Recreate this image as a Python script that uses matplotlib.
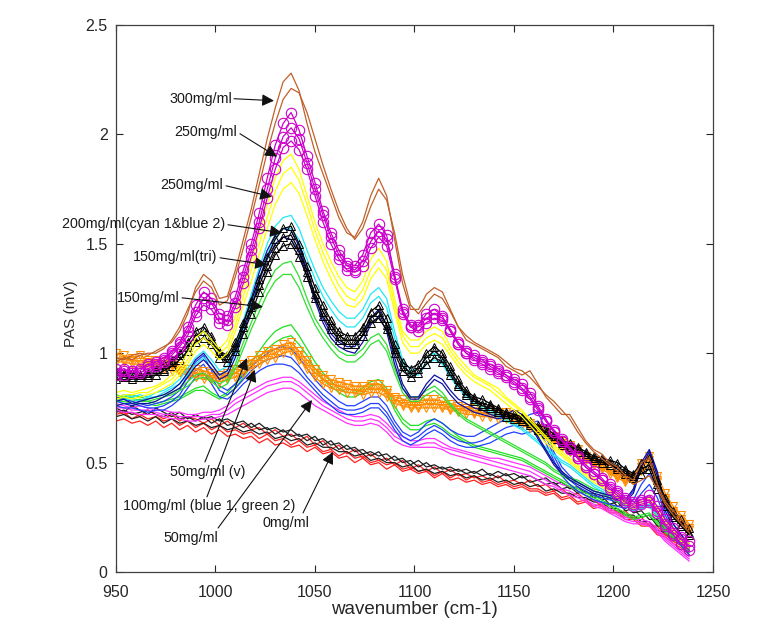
import numpy as np
import matplotlib
matplotlib.use("Agg")
import matplotlib.pyplot as plt

plt.rcParams['font.family'] = ['Liberation Sans', 'DejaVu Sans']

# wavenumber grid (cm-1), 4 cm-1 steps
wavenumber = np.arange(950, 1239, 4)

# ---- 300 mg/ml (brown) ----
brown_300_a = [0.98, 0.97, 0.99, 1.00, 0.99, 1.01, 1.03, 1.05, 1.10, 1.18,
               1.30, 1.36, 1.33, 1.25, 1.26, 1.38, 1.52, 1.66, 1.82, 1.98,
               2.12, 2.24, 2.28, 2.20, 2.05, 1.92, 1.82, 1.72, 1.62, 1.55,
               1.53, 1.60, 1.72, 1.80, 1.72, 1.52, 1.32, 1.20, 1.20, 1.27,
               1.30, 1.28, 1.20, 1.12, 1.06, 1.04, 1.02, 1.00, 0.98, 0.94,
               0.92, 0.90, 0.92, 0.86, 0.80, 0.76, 0.72, 0.72, 0.66, 0.60,
               0.56, 0.54, 0.50, 0.48, 0.44, 0.42, 0.50, 0.52, 0.40, 0.32,
               0.28, 0.24, 0.20]
brown_300_b = [0.96, 0.98, 0.97, 0.99, 1.00, 1.00, 1.02, 1.06, 1.12, 1.20,
               1.28, 1.33, 1.30, 1.22, 1.24, 1.35, 1.48, 1.62, 1.77, 1.92,
               2.05, 2.16, 2.21, 2.19, 2.10, 1.98, 1.86, 1.75, 1.65, 1.57,
               1.52, 1.57, 1.67, 1.75, 1.70, 1.55, 1.36, 1.22, 1.18, 1.23,
               1.27, 1.25, 1.19, 1.12, 1.08, 1.05, 1.03, 1.01, 0.99, 0.96,
               0.93, 0.92, 0.89, 0.85, 0.81, 0.78, 0.74, 0.70, 0.64, 0.59,
               0.55, 0.52, 0.49, 0.46, 0.43, 0.40, 0.42, 0.44, 0.38, 0.31,
               0.26, 0.22, 0.18]

# ---- 250 mg/ml (magenta circles) ----
mag_250_a = [0.93, 0.92, 0.92, 0.93, 0.94, 0.96, 0.98, 1.00, 1.05, 1.12,
             1.22, 1.28, 1.25, 1.18, 1.17, 1.26, 1.38, 1.50, 1.64, 1.80,
             1.95, 2.05, 2.10, 2.02, 1.90, 1.78, 1.65, 1.55, 1.47, 1.41,
             1.40, 1.45, 1.55, 1.59, 1.54, 1.35, 1.18, 1.12, 1.13, 1.18,
             1.20, 1.17, 1.10, 1.04, 1.00, 0.98, 0.96, 0.95, 0.93, 0.90,
             0.88, 0.86, 0.82, 0.76, 0.70, 0.64, 0.60, 0.56, 0.52, 0.48,
             0.45, 0.42, 0.40, 0.37, 0.34, 0.32, 0.33, 0.35, 0.30, 0.24,
             0.20, 0.16, 0.14]
mag_250_b = [0.91, 0.93, 0.91, 0.92, 0.95, 0.95, 0.97, 1.01, 1.04, 1.10,
             1.19, 1.25, 1.23, 1.16, 1.15, 1.23, 1.35, 1.47, 1.60, 1.75,
             1.89, 1.99, 2.03, 1.98, 1.87, 1.75, 1.63, 1.53, 1.45, 1.40,
             1.38, 1.42, 1.51, 1.56, 1.52, 1.36, 1.20, 1.13, 1.12, 1.16,
             1.18, 1.16, 1.11, 1.05, 1.01, 0.99, 0.97, 0.94, 0.92, 0.90,
             0.87, 0.84, 0.80, 0.75, 0.69, 0.65, 0.61, 0.57, 0.53, 0.49,
             0.46, 0.43, 0.39, 0.36, 0.33, 0.31, 0.32, 0.33, 0.28, 0.22,
             0.18, 0.15, 0.12]
mag_250_c = [0.90, 0.90, 0.92, 0.91, 0.93, 0.94, 0.96, 0.99, 1.03, 1.08,
             1.17, 1.22, 1.20, 1.14, 1.13, 1.21, 1.32, 1.44, 1.57, 1.71,
             1.84, 1.94, 1.97, 1.93, 1.84, 1.72, 1.60, 1.50, 1.43, 1.38,
             1.37, 1.40, 1.48, 1.53, 1.49, 1.34, 1.19, 1.12, 1.10, 1.14,
             1.16, 1.15, 1.10, 1.04, 1.00, 0.97, 0.95, 0.93, 0.91, 0.89,
             0.86, 0.83, 0.79, 0.74, 0.69, 0.64, 0.60, 0.56, 0.52, 0.48,
             0.45, 0.42, 0.38, 0.35, 0.32, 0.30, 0.31, 0.32, 0.27, 0.21,
             0.17, 0.13, 0.10]

# ---- 250 mg/ml (yellow) ----
yel_250_a = [0.82, 0.83, 0.82, 0.83, 0.84, 0.85, 0.87, 0.90, 0.94, 1.00,
             1.07, 1.10, 1.06, 1.02, 1.06, 1.17, 1.30, 1.42, 1.55, 1.68,
             1.80, 1.88, 1.91, 1.84, 1.72, 1.60, 1.50, 1.42, 1.35, 1.30,
             1.28, 1.33, 1.43, 1.48, 1.42, 1.25, 1.10, 1.06, 1.06, 1.10,
             1.12, 1.10, 1.03, 0.98, 0.94, 0.90, 0.88, 0.86, 0.84, 0.80,
             0.77, 0.74, 0.70, 0.66, 0.62, 0.58, 0.55, 0.52, 0.49, 0.46,
             0.43, 0.41, 0.38, 0.36, 0.33, 0.31, 0.33, 0.34, 0.29, 0.24,
             0.20, 0.16, 0.13]
yel_250_b = [0.80, 0.81, 0.81, 0.82, 0.82, 0.84, 0.86, 0.88, 0.92, 0.97,
             1.04, 1.07, 1.04, 1.00, 1.03, 1.13, 1.26, 1.38, 1.50, 1.62,
             1.74, 1.82, 1.85, 1.79, 1.68, 1.56, 1.46, 1.38, 1.31, 1.26,
             1.24, 1.29, 1.38, 1.43, 1.38, 1.22, 1.08, 1.03, 1.03, 1.07,
             1.09, 1.07, 1.01, 0.96, 0.92, 0.89, 0.87, 0.85, 0.82, 0.79,
             0.76, 0.73, 0.69, 0.65, 0.61, 0.57, 0.54, 0.51, 0.48, 0.45,
             0.42, 0.40, 0.37, 0.35, 0.32, 0.30, 0.32, 0.33, 0.28, 0.23,
             0.19, 0.15, 0.12]
yel_250_c = [0.79, 0.80, 0.79, 0.80, 0.81, 0.82, 0.84, 0.86, 0.90, 0.95,
             1.01, 1.04, 1.01, 0.97, 1.00, 1.10, 1.22, 1.33, 1.45, 1.57,
             1.68, 1.75, 1.78, 1.73, 1.63, 1.52, 1.42, 1.34, 1.27, 1.22,
             1.21, 1.25, 1.34, 1.39, 1.34, 1.19, 1.05, 1.00, 1.00, 1.04,
             1.06, 1.04, 0.99, 0.94, 0.90, 0.87, 0.85, 0.83, 0.80, 0.77,
             0.74, 0.71, 0.67, 0.63, 0.59, 0.56, 0.53, 0.50, 0.47, 0.44,
             0.41, 0.39, 0.36, 0.34, 0.31, 0.29, 0.31, 0.32, 0.27, 0.22,
             0.18, 0.14, 0.11]

# ---- 200 mg/ml (cyan 1 & blue 2) ----
cyan_200_a = [0.80, 0.81, 0.80, 0.81, 0.80, 0.82, 0.83, 0.85, 0.88, 0.93,
              0.98, 1.01, 0.97, 0.92, 0.94, 1.03, 1.15, 1.27, 1.39, 1.50,
              1.58, 1.62, 1.63, 1.57, 1.47, 1.38, 1.30, 1.24, 1.19, 1.16,
              1.16, 1.20, 1.27, 1.30, 1.25, 1.10, 0.97, 0.92, 0.93, 0.98,
              1.00, 0.97, 0.91, 0.86, 0.81, 0.78, 0.76, 0.74, 0.72, 0.70,
              0.68, 0.66, 0.63, 0.60, 0.57, 0.54, 0.51, 0.49, 0.46, 0.43,
              0.40, 0.38, 0.36, 0.34, 0.31, 0.29, 0.30, 0.31, 0.27, 0.22,
              0.18, 0.15, 0.12]
cyan_200_b = [0.78, 0.79, 0.79, 0.78, 0.80, 0.80, 0.82, 0.84, 0.86, 0.90,
              0.95, 0.98, 0.95, 0.90, 0.92, 1.00, 1.11, 1.22, 1.34, 1.45,
              1.53, 1.57, 1.57, 1.52, 1.43, 1.34, 1.26, 1.20, 1.15, 1.12,
              1.12, 1.16, 1.23, 1.26, 1.21, 1.07, 0.95, 0.90, 0.90, 0.95,
              0.97, 0.95, 0.89, 0.84, 0.80, 0.77, 0.75, 0.73, 0.71, 0.69,
              0.67, 0.65, 0.62, 0.59, 0.56, 0.53, 0.50, 0.48, 0.45, 0.42,
              0.39, 0.37, 0.35, 0.33, 0.30, 0.28, 0.29, 0.30, 0.26, 0.21,
              0.17, 0.14, 0.11]
navy_200_a = [0.78, 0.79, 0.77, 0.78, 0.79, 0.80, 0.81, 0.83, 0.86, 0.91,
              0.97, 1.00, 0.95, 0.90, 0.92, 1.01, 1.13, 1.25, 1.37, 1.47,
              1.54, 1.57, 1.56, 1.49, 1.38, 1.26, 1.16, 1.09, 1.05, 1.03,
              1.03, 1.08, 1.16, 1.20, 1.13, 0.98, 0.86, 0.80, 0.80, 0.86,
              0.90, 0.88, 0.83, 0.79, 0.77, 0.75, 0.74, 0.72, 0.71, 0.72,
              0.74, 0.72, 0.68, 0.62, 0.56, 0.50, 0.46, 0.43, 0.41, 0.39,
              0.37, 0.36, 0.35, 0.34, 0.33, 0.38, 0.50, 0.56, 0.46, 0.30,
              0.22, 0.17, 0.13]
navy_200_b = [0.76, 0.77, 0.76, 0.77, 0.77, 0.78, 0.80, 0.82, 0.84, 0.89,
              0.94, 0.97, 0.93, 0.88, 0.90, 0.98, 1.09, 1.21, 1.33, 1.43,
              1.50, 1.53, 1.52, 1.46, 1.35, 1.24, 1.14, 1.07, 1.03, 1.01,
              1.00, 1.05, 1.13, 1.17, 1.10, 0.95, 0.84, 0.79, 0.79, 0.84,
              0.88, 0.86, 0.81, 0.77, 0.75, 0.73, 0.72, 0.71, 0.70, 0.71,
              0.72, 0.71, 0.67, 0.61, 0.55, 0.49, 0.45, 0.42, 0.40, 0.38,
              0.36, 0.35, 0.34, 0.33, 0.32, 0.36, 0.48, 0.55, 0.44, 0.28,
              0.20, 0.15, 0.11]

# ---- 150 mg/ml (black triangles) ----
tri_150_a = [0.92, 0.90, 0.91, 0.90, 0.91, 0.93, 0.95, 0.97, 1.00, 1.05,
             1.10, 1.12, 1.08, 1.01, 0.99, 1.05, 1.14, 1.24, 1.34, 1.44,
             1.52, 1.57, 1.58, 1.50, 1.40, 1.30, 1.22, 1.15, 1.10, 1.08,
             1.08, 1.12, 1.19, 1.22, 1.16, 1.04, 0.96, 0.93, 0.95, 1.00,
             1.03, 1.00, 0.94, 0.88, 0.83, 0.80, 0.79, 0.77, 0.75, 0.73,
             0.72, 0.71, 0.69, 0.67, 0.66, 0.63, 0.60, 0.59, 0.57, 0.55,
             0.53, 0.52, 0.51, 0.50, 0.47, 0.45, 0.50, 0.52, 0.42, 0.34,
             0.28, 0.24, 0.20]
tri_150_b = [0.90, 0.91, 0.89, 0.90, 0.90, 0.92, 0.93, 0.96, 0.99, 1.03,
             1.08, 1.10, 1.06, 1.00, 0.98, 1.03, 1.12, 1.21, 1.31, 1.40,
             1.48, 1.53, 1.54, 1.47, 1.37, 1.27, 1.19, 1.13, 1.08, 1.06,
             1.06, 1.10, 1.16, 1.19, 1.13, 1.02, 0.94, 0.91, 0.93, 0.98,
             1.01, 0.98, 0.92, 0.86, 0.82, 0.79, 0.77, 0.76, 0.74, 0.72,
             0.71, 0.70, 0.68, 0.66, 0.64, 0.62, 0.59, 0.57, 0.56, 0.54,
             0.52, 0.51, 0.50, 0.48, 0.46, 0.44, 0.47, 0.49, 0.40, 0.32,
             0.26, 0.22, 0.18]
tri_150_c = [0.88, 0.89, 0.88, 0.89, 0.89, 0.90, 0.92, 0.94, 0.97, 1.01,
             1.05, 1.07, 1.04, 0.98, 0.96, 1.01, 1.09, 1.18, 1.28, 1.37,
             1.45, 1.49, 1.50, 1.44, 1.35, 1.25, 1.17, 1.11, 1.06, 1.04,
             1.04, 1.08, 1.14, 1.16, 1.11, 1.00, 0.92, 0.89, 0.91, 0.95,
             0.98, 0.96, 0.90, 0.85, 0.81, 0.78, 0.76, 0.75, 0.73, 0.71,
             0.70, 0.69, 0.67, 0.65, 0.63, 0.61, 0.58, 0.56, 0.55, 0.53,
             0.51, 0.50, 0.49, 0.47, 0.45, 0.43, 0.45, 0.47, 0.38, 0.30,
             0.25, 0.21, 0.17]

# ---- 150 mg/ml (green) ----
grn_150_a = [0.81, 0.80, 0.81, 0.80, 0.79, 0.80, 0.81, 0.82, 0.84, 0.87,
             0.90, 0.91, 0.88, 0.86, 0.88, 0.95, 1.05, 1.14, 1.23, 1.31,
             1.38, 1.41, 1.42, 1.35, 1.25, 1.16, 1.10, 1.05, 1.01, 0.99,
             0.99, 1.02, 1.07, 1.09, 1.04, 0.93, 0.84, 0.80, 0.80, 0.83,
             0.85, 0.82, 0.77, 0.73, 0.70, 0.68, 0.66, 0.64, 0.62, 0.60,
             0.58, 0.56, 0.54, 0.52, 0.50, 0.47, 0.45, 0.43, 0.42, 0.40,
             0.38, 0.37, 0.35, 0.33, 0.31, 0.29, 0.30, 0.31, 0.26, 0.21,
             0.17, 0.14, 0.11]
grn_150_b = [0.79, 0.79, 0.80, 0.78, 0.78, 0.79, 0.80, 0.81, 0.83, 0.85,
             0.88, 0.89, 0.87, 0.84, 0.86, 0.93, 1.02, 1.11, 1.19, 1.27,
             1.33, 1.36, 1.36, 1.30, 1.21, 1.13, 1.07, 1.02, 0.98, 0.96,
             0.96, 0.99, 1.04, 1.06, 1.01, 0.91, 0.82, 0.78, 0.78, 0.81,
             0.83, 0.80, 0.76, 0.72, 0.69, 0.67, 0.65, 0.63, 0.61, 0.59,
             0.57, 0.55, 0.53, 0.51, 0.49, 0.46, 0.44, 0.42, 0.41, 0.39,
             0.37, 0.36, 0.34, 0.32, 0.30, 0.28, 0.29, 0.30, 0.25, 0.20,
             0.16, 0.13, 0.10]

# ---- 100 mg/ml (green 2 and blue 1) ----
grn_100_a = [0.80, 0.79, 0.78, 0.79, 0.78, 0.77, 0.78, 0.79, 0.80, 0.82,
             0.84, 0.85, 0.82, 0.80, 0.82, 0.86, 0.91, 0.96, 1.01, 1.06,
             1.10, 1.12, 1.13, 1.08, 1.02, 0.96, 0.91, 0.87, 0.84, 0.82,
             0.82, 0.84, 0.87, 0.88, 0.84, 0.76, 0.70, 0.67, 0.67, 0.69,
             0.70, 0.68, 0.65, 0.62, 0.60, 0.58, 0.57, 0.56, 0.55, 0.54,
             0.53, 0.52, 0.50, 0.48, 0.46, 0.44, 0.42, 0.40, 0.38, 0.36,
             0.35, 0.33, 0.31, 0.29, 0.27, 0.25, 0.26, 0.27, 0.23, 0.19,
             0.16, 0.13, 0.10]
grn_100_b = [0.78, 0.78, 0.77, 0.77, 0.77, 0.76, 0.77, 0.78, 0.79, 0.81,
             0.83, 0.83, 0.81, 0.79, 0.81, 0.84, 0.89, 0.94, 0.98, 1.02,
             1.05, 1.07, 1.08, 1.04, 0.99, 0.93, 0.88, 0.85, 0.82, 0.80,
             0.80, 0.82, 0.85, 0.86, 0.82, 0.74, 0.68, 0.65, 0.65, 0.67,
             0.68, 0.66, 0.63, 0.61, 0.59, 0.57, 0.56, 0.55, 0.54, 0.53,
             0.52, 0.51, 0.49, 0.47, 0.45, 0.43, 0.41, 0.39, 0.37, 0.35,
             0.34, 0.32, 0.30, 0.28, 0.26, 0.24, 0.25, 0.26, 0.22, 0.18,
             0.15, 0.12, 0.09]
blu_100_a = [0.80, 0.79, 0.78, 0.77, 0.76, 0.77, 0.78, 0.80, 0.83, 0.90,
             0.96, 0.99, 0.92, 0.85, 0.83, 0.86, 0.90, 0.94, 0.97, 1.00,
             1.02, 1.03, 1.02, 0.98, 0.93, 0.88, 0.84, 0.81, 0.78, 0.76,
             0.76, 0.78, 0.80, 0.80, 0.76, 0.69, 0.64, 0.62, 0.64, 0.68,
             0.70, 0.68, 0.65, 0.63, 0.62, 0.62, 0.64, 0.66, 0.68, 0.70,
             0.71, 0.70, 0.72, 0.73, 0.65, 0.55, 0.48, 0.44, 0.41, 0.39,
             0.37, 0.36, 0.35, 0.34, 0.33, 0.37, 0.48, 0.55, 0.45, 0.30,
             0.22, 0.17, 0.12]
blu_100_b = [0.78, 0.77, 0.77, 0.76, 0.75, 0.75, 0.76, 0.78, 0.81, 0.87,
             0.92, 0.95, 0.89, 0.83, 0.81, 0.84, 0.88, 0.92, 0.95, 0.97,
             0.98, 0.99, 0.98, 0.94, 0.89, 0.85, 0.81, 0.78, 0.75, 0.74,
             0.74, 0.75, 0.77, 0.77, 0.73, 0.67, 0.62, 0.60, 0.62, 0.65,
             0.67, 0.65, 0.62, 0.60, 0.59, 0.59, 0.60, 0.62, 0.64, 0.66,
             0.67, 0.66, 0.68, 0.69, 0.62, 0.53, 0.46, 0.42, 0.39, 0.37,
             0.35, 0.34, 0.33, 0.32, 0.31, 0.33, 0.40, 0.45, 0.38, 0.26,
             0.19, 0.14, 0.10]
blu_100_c = [0.76, 0.75, 0.75, 0.74, 0.73, 0.74, 0.74, 0.76, 0.79, 0.84,
             0.89, 0.91, 0.86, 0.80, 0.79, 0.82, 0.86, 0.89, 0.92, 0.94,
             0.95, 0.95, 0.94, 0.91, 0.87, 0.83, 0.79, 0.76, 0.73, 0.72,
             0.72, 0.73, 0.75, 0.75, 0.71, 0.65, 0.60, 0.58, 0.60, 0.63,
             0.65, 0.63, 0.60, 0.58, 0.57, 0.57, 0.58, 0.59, 0.61, 0.63,
             0.64, 0.63, 0.64, 0.65, 0.59, 0.51, 0.44, 0.40, 0.37, 0.35,
             0.33, 0.32, 0.31, 0.30, 0.29, 0.31, 0.36, 0.40, 0.34, 0.24,
             0.17, 0.12, 0.08]

# ---- 50 mg/ml (v) orange down-triangles ----
org_50_a = [1.00, 0.99, 0.98, 0.99, 0.97, 0.97, 0.96, 0.95, 0.94, 0.93,
            0.93, 0.92, 0.91, 0.90, 0.91, 0.93, 0.95, 0.97, 0.99, 1.01,
            1.02, 1.04, 1.05, 1.01, 0.97, 0.93, 0.90, 0.88, 0.87, 0.86,
            0.85, 0.85, 0.86, 0.86, 0.83, 0.80, 0.79, 0.78, 0.78, 0.79,
            0.79, 0.78, 0.77, 0.76, 0.75, 0.75, 0.74, 0.74, 0.73, 0.73,
            0.72, 0.70, 0.68, 0.66, 0.64, 0.62, 0.60, 0.58, 0.56, 0.53,
            0.51, 0.49, 0.47, 0.45, 0.43, 0.44, 0.50, 0.53, 0.44, 0.36,
            0.30, 0.26, 0.22]
org_50_b = [0.98, 0.97, 0.97, 0.96, 0.96, 0.95, 0.95, 0.94, 0.92, 0.91,
            0.91, 0.90, 0.89, 0.89, 0.89, 0.91, 0.93, 0.95, 0.97, 0.99,
            1.00, 1.02, 1.03, 0.99, 0.95, 0.91, 0.88, 0.86, 0.85, 0.84,
            0.83, 0.83, 0.84, 0.84, 0.82, 0.79, 0.77, 0.76, 0.76, 0.77,
            0.77, 0.76, 0.75, 0.74, 0.74, 0.73, 0.73, 0.72, 0.72, 0.71,
            0.70, 0.69, 0.67, 0.65, 0.63, 0.61, 0.59, 0.57, 0.54, 0.52,
            0.50, 0.48, 0.46, 0.44, 0.42, 0.43, 0.48, 0.51, 0.42, 0.34,
            0.28, 0.24, 0.20]
org_50_c = [0.96, 0.96, 0.95, 0.95, 0.94, 0.94, 0.93, 0.92, 0.91, 0.90,
            0.89, 0.88, 0.88, 0.87, 0.88, 0.89, 0.91, 0.93, 0.95, 0.97,
            0.98, 1.00, 1.01, 0.97, 0.93, 0.89, 0.86, 0.84, 0.83, 0.82,
            0.82, 0.81, 0.82, 0.82, 0.80, 0.77, 0.76, 0.75, 0.75, 0.75,
            0.75, 0.75, 0.74, 0.73, 0.72, 0.72, 0.71, 0.71, 0.70, 0.70,
            0.69, 0.67, 0.66, 0.64, 0.62, 0.60, 0.57, 0.55, 0.53, 0.51,
            0.49, 0.47, 0.45, 0.43, 0.41, 0.42, 0.46, 0.49, 0.41, 0.33,
            0.27, 0.23, 0.19]

# ---- 50 mg/ml (magenta lines) ----
pink_50_a = [0.77, 0.76, 0.75, 0.76, 0.75, 0.74, 0.74, 0.73, 0.73, 0.72,
             0.72, 0.73, 0.73, 0.74, 0.76, 0.79, 0.81, 0.83, 0.85, 0.87,
             0.88, 0.89, 0.89, 0.87, 0.84, 0.81, 0.78, 0.76, 0.74, 0.72,
             0.71, 0.71, 0.72, 0.71, 0.68, 0.64, 0.62, 0.60, 0.60, 0.61,
             0.61, 0.59, 0.57, 0.56, 0.55, 0.54, 0.53, 0.52, 0.52, 0.51,
             0.50, 0.49, 0.48, 0.46, 0.44, 0.42, 0.40, 0.39, 0.37, 0.35,
             0.33, 0.31, 0.29, 0.27, 0.25, 0.24, 0.24, 0.23, 0.20, 0.16,
             0.13, 0.10, 0.07]
pink_50_b = [0.75, 0.75, 0.74, 0.74, 0.74, 0.73, 0.72, 0.72, 0.71, 0.71,
             0.71, 0.71, 0.72, 0.72, 0.74, 0.77, 0.79, 0.81, 0.83, 0.85,
             0.86, 0.87, 0.87, 0.85, 0.82, 0.79, 0.76, 0.74, 0.72, 0.70,
             0.69, 0.69, 0.70, 0.69, 0.66, 0.62, 0.60, 0.58, 0.58, 0.59,
             0.59, 0.57, 0.56, 0.55, 0.54, 0.53, 0.52, 0.51, 0.50, 0.49,
             0.48, 0.47, 0.46, 0.44, 0.42, 0.40, 0.38, 0.37, 0.35, 0.33,
             0.31, 0.30, 0.28, 0.26, 0.24, 0.23, 0.23, 0.22, 0.19, 0.15,
             0.12, 0.09, 0.06]
pink_50_c = [0.74, 0.73, 0.73, 0.72, 0.72, 0.72, 0.71, 0.70, 0.70, 0.69,
             0.69, 0.70, 0.70, 0.71, 0.72, 0.74, 0.76, 0.78, 0.80, 0.82,
             0.83, 0.84, 0.84, 0.82, 0.79, 0.76, 0.74, 0.72, 0.70, 0.68,
             0.67, 0.67, 0.68, 0.67, 0.64, 0.60, 0.58, 0.57, 0.57, 0.57,
             0.57, 0.56, 0.54, 0.53, 0.52, 0.51, 0.50, 0.49, 0.48, 0.47,
             0.46, 0.45, 0.44, 0.42, 0.40, 0.39, 0.37, 0.35, 0.34, 0.32,
             0.30, 0.29, 0.27, 0.25, 0.23, 0.22, 0.22, 0.21, 0.18, 0.14,
             0.11, 0.08, 0.05]

# ---- 0 mg/ml (black and red lines) ----
blk_0_a = [0.75, 0.73, 0.76, 0.74, 0.72, 0.75, 0.73, 0.71, 0.73, 0.70,
           0.72, 0.70, 0.71, 0.69, 0.70, 0.68, 0.69, 0.66, 0.68, 0.65,
           0.66, 0.64, 0.65, 0.62, 0.63, 0.60, 0.61, 0.58, 0.59, 0.56,
           0.57, 0.54, 0.55, 0.53, 0.54, 0.51, 0.52, 0.49, 0.51, 0.48,
           0.49, 0.47, 0.48, 0.46, 0.47, 0.45, 0.47, 0.44, 0.46, 0.44,
           0.45, 0.43, 0.44, 0.42, 0.43, 0.40, 0.41, 0.38, 0.39, 0.36,
           0.36, 0.33, 0.34, 0.30, 0.31, 0.27, 0.28, 0.24, 0.24, 0.19,
           0.18, 0.13, 0.12]
blk_0_b = [0.73, 0.74, 0.72, 0.73, 0.74, 0.72, 0.71, 0.73, 0.70, 0.71,
           0.69, 0.71, 0.68, 0.70, 0.67, 0.68, 0.66, 0.68, 0.65, 0.66,
           0.63, 0.65, 0.62, 0.63, 0.60, 0.62, 0.58, 0.60, 0.56, 0.58,
           0.55, 0.56, 0.53, 0.55, 0.51, 0.53, 0.50, 0.51, 0.48, 0.50,
           0.47, 0.48, 0.46, 0.47, 0.45, 0.46, 0.44, 0.45, 0.43, 0.45,
           0.42, 0.44, 0.41, 0.42, 0.40, 0.41, 0.38, 0.39, 0.36, 0.37,
           0.34, 0.35, 0.31, 0.32, 0.28, 0.29, 0.25, 0.26, 0.21, 0.21,
           0.16, 0.15, 0.11]
blk_0_c = [0.71, 0.72, 0.70, 0.71, 0.69, 0.71, 0.68, 0.70, 0.68, 0.69,
           0.67, 0.68, 0.66, 0.67, 0.65, 0.66, 0.64, 0.65, 0.63, 0.64,
           0.61, 0.62, 0.60, 0.61, 0.58, 0.59, 0.57, 0.57, 0.55, 0.55,
           0.53, 0.54, 0.51, 0.52, 0.50, 0.50, 0.48, 0.49, 0.46, 0.47,
           0.45, 0.46, 0.44, 0.45, 0.43, 0.44, 0.42, 0.43, 0.41, 0.42,
           0.40, 0.41, 0.39, 0.40, 0.37, 0.38, 0.36, 0.36, 0.34, 0.34,
           0.32, 0.32, 0.29, 0.29, 0.26, 0.26, 0.23, 0.23, 0.19, 0.18,
           0.15, 0.13, 0.10]
red_0_a = [0.74, 0.72, 0.73, 0.71, 0.74, 0.72, 0.70, 0.72, 0.69, 0.71,
           0.70, 0.68, 0.70, 0.67, 0.69, 0.66, 0.68, 0.65, 0.66, 0.63,
           0.65, 0.62, 0.63, 0.60, 0.62, 0.58, 0.60, 0.56, 0.58, 0.54,
           0.56, 0.52, 0.54, 0.51, 0.52, 0.49, 0.51, 0.47, 0.49, 0.46,
           0.48, 0.45, 0.47, 0.44, 0.45, 0.43, 0.44, 0.42, 0.44, 0.41,
           0.42, 0.40, 0.42, 0.39, 0.40, 0.37, 0.38, 0.35, 0.36, 0.33,
           0.33, 0.30, 0.31, 0.27, 0.28, 0.24, 0.25, 0.21, 0.21, 0.17,
           0.16, 0.12, 0.10]
red_0_b = [0.72, 0.73, 0.70, 0.72, 0.70, 0.71, 0.69, 0.70, 0.67, 0.69,
           0.66, 0.68, 0.65, 0.67, 0.64, 0.65, 0.63, 0.64, 0.61, 0.63,
           0.60, 0.61, 0.58, 0.60, 0.57, 0.58, 0.55, 0.56, 0.53, 0.55,
           0.52, 0.53, 0.50, 0.51, 0.49, 0.50, 0.47, 0.48, 0.46, 0.47,
           0.44, 0.46, 0.43, 0.45, 0.42, 0.44, 0.41, 0.42, 0.40, 0.41,
           0.39, 0.40, 0.38, 0.38, 0.36, 0.37, 0.34, 0.35, 0.32, 0.33,
           0.30, 0.31, 0.28, 0.28, 0.25, 0.25, 0.22, 0.22, 0.18, 0.17,
           0.14, 0.12, 0.09]
red_0_c = [0.69, 0.70, 0.68, 0.69, 0.67, 0.69, 0.66, 0.68, 0.65, 0.67,
           0.64, 0.66, 0.63, 0.65, 0.62, 0.63, 0.61, 0.62, 0.59, 0.61,
           0.58, 0.59, 0.57, 0.58, 0.55, 0.57, 0.54, 0.55, 0.52, 0.53,
           0.50, 0.52, 0.49, 0.50, 0.47, 0.49, 0.46, 0.47, 0.45, 0.46,
           0.43, 0.45, 0.42, 0.43, 0.41, 0.42, 0.40, 0.41, 0.39, 0.40,
           0.38, 0.39, 0.37, 0.37, 0.35, 0.36, 0.33, 0.34, 0.31, 0.32,
           0.29, 0.30, 0.27, 0.27, 0.24, 0.24, 0.21, 0.21, 0.17, 0.16,
           0.13, 0.11, 0.08]

# annotation labels
labels = ["300mg/ml", "250mg/ml", "250mg/ml", "200mg/ml(cyan 1&blue 2)",
          "150mg/ml(tri)", "150mg/ml", "50mg/ml (v)",
          "100mg/ml (blue 1, green 2)", "0mg/ml", "50mg/ml"]

# ------------------------------------------------------------------
fig = plt.figure(figsize=(7.59, 6.31), dpi=100)
ax = fig.add_axes([0.1528, 0.0935, 0.7866, 0.8669])

LW = 0.9
def line(y, color, **kw):
    ax.plot(wavenumber, y, color=color, lw=LW, **kw)

for y in (red_0_a, red_0_b, red_0_c):
    line(y, '#FF2020')
for y in (blk_0_a, blk_0_b, blk_0_c):
    line(y, '#202020')
for y in (pink_50_a, pink_50_b, pink_50_c):
    line(y, '#FF30FF')
for y in (grn_100_a, grn_100_b):
    line(y, '#20E020')
for y in (blu_100_a, blu_100_b, blu_100_c):
    line(y, '#2040FF')
for y in (org_50_a, org_50_b, org_50_c):
    line(y, '#FF8C00', marker='v', ms=6, mfc='none', mew=0.8)
for y in (grn_150_a, grn_150_b):
    line(y, '#30E030')
for y in (cyan_200_a, cyan_200_b):
    line(y, '#20E8F8')
for y in (navy_200_a, navy_200_b):
    line(y, '#1010A0')
for y in (tri_150_a, tri_150_b, tri_150_c):
    line(y, '#000000', marker='^', ms=6, mfc='none', mew=0.7)
for y in (yel_250_a, yel_250_b, yel_250_c):
    line(y, '#FFFF00')
for y in (mag_250_a, mag_250_b, mag_250_c):
    line(y, '#CC00CC', marker='o', ms=7.5, mfc='none', mew=0.8)
for y in (brown_300_a, brown_300_b):
    line(y, '#C0602A')

ax.set_xlim(950, 1250)
ax.set_ylim(0, 2.5)
ax.set_xticks([950, 1000, 1050, 1100, 1150, 1200, 1250])
ax.set_yticks([0, 0.5, 1, 1.5, 2, 2.5])
ax.set_yticklabels(["0", "0.5", "1", "1.5", "2", "2.5"])
ax.tick_params(direction='in', top=True, right=True, length=5, width=0.8,
               labelsize=11.5, colors='#262626')
ax.tick_params(axis='x', pad=9)
ax.tick_params(axis='y', pad=6)
for s in ax.spines.values():
    s.set_color('#404040')
    s.set_linewidth(0.9)
ax.set_xlabel("wavenumber (cm-1)", fontsize=13.5, color='#262626', labelpad=1)
ax.set_ylabel("PAS (mV)", fontsize=11, color='#262626')
ax.yaxis.set_label_coords(-0.064, 0.472)

# text positions (data coords) and arrow start / tip
text_pos = [(1008.3, 2.163, 'right'), (1010.8, 2.012, 'right'),
            (1003.8, 1.770, 'right'), (1004.8, 1.591, 'right'),
            (1000.8, 1.440, 'right'), (982.2, 1.253, 'right'),
            (977.1, 0.457, 'left'), (953.5, 0.300, 'left'),
            (1023.5, 0.225, 'left'), (973.6, 0.155, 'left')]
arrow_start = [(1009.3, 2.163), (1012.3, 2.003), (1005.3, 1.765),
               (1006.3, 1.587), (1002.3, 1.436), (983.2, 1.253),
               (994.7, 0.503), (995.7, 0.343), (1044.0, 0.270),
               (1001.3, 0.201)]
arrow_tip = [(1029.4, 2.154), (1030.9, 1.898), (1028.4, 1.715),
             (1033.4, 1.550), (1025.9, 1.404), (1023.9, 1.212),
             (1015.8, 0.978), (1019.8, 0.924), (1059.0, 0.549),
             (1048.5, 0.786)]

for lab, (tx, ty, ha), st, tp in zip(labels, text_pos, arrow_start, arrow_tip):
    ax.text(tx, ty, lab, ha=ha, va='center', fontsize=10.3, color='#1a1a1a',
            zorder=20)
    ax.annotate('', xy=tp, xytext=st,
                arrowprops=dict(arrowstyle='-|>', color='#111111', lw=0.8,
                                mutation_scale=18, shrinkA=0, shrinkB=0),
                zorder=21)

fig.savefig('out.png', dpi=100)
